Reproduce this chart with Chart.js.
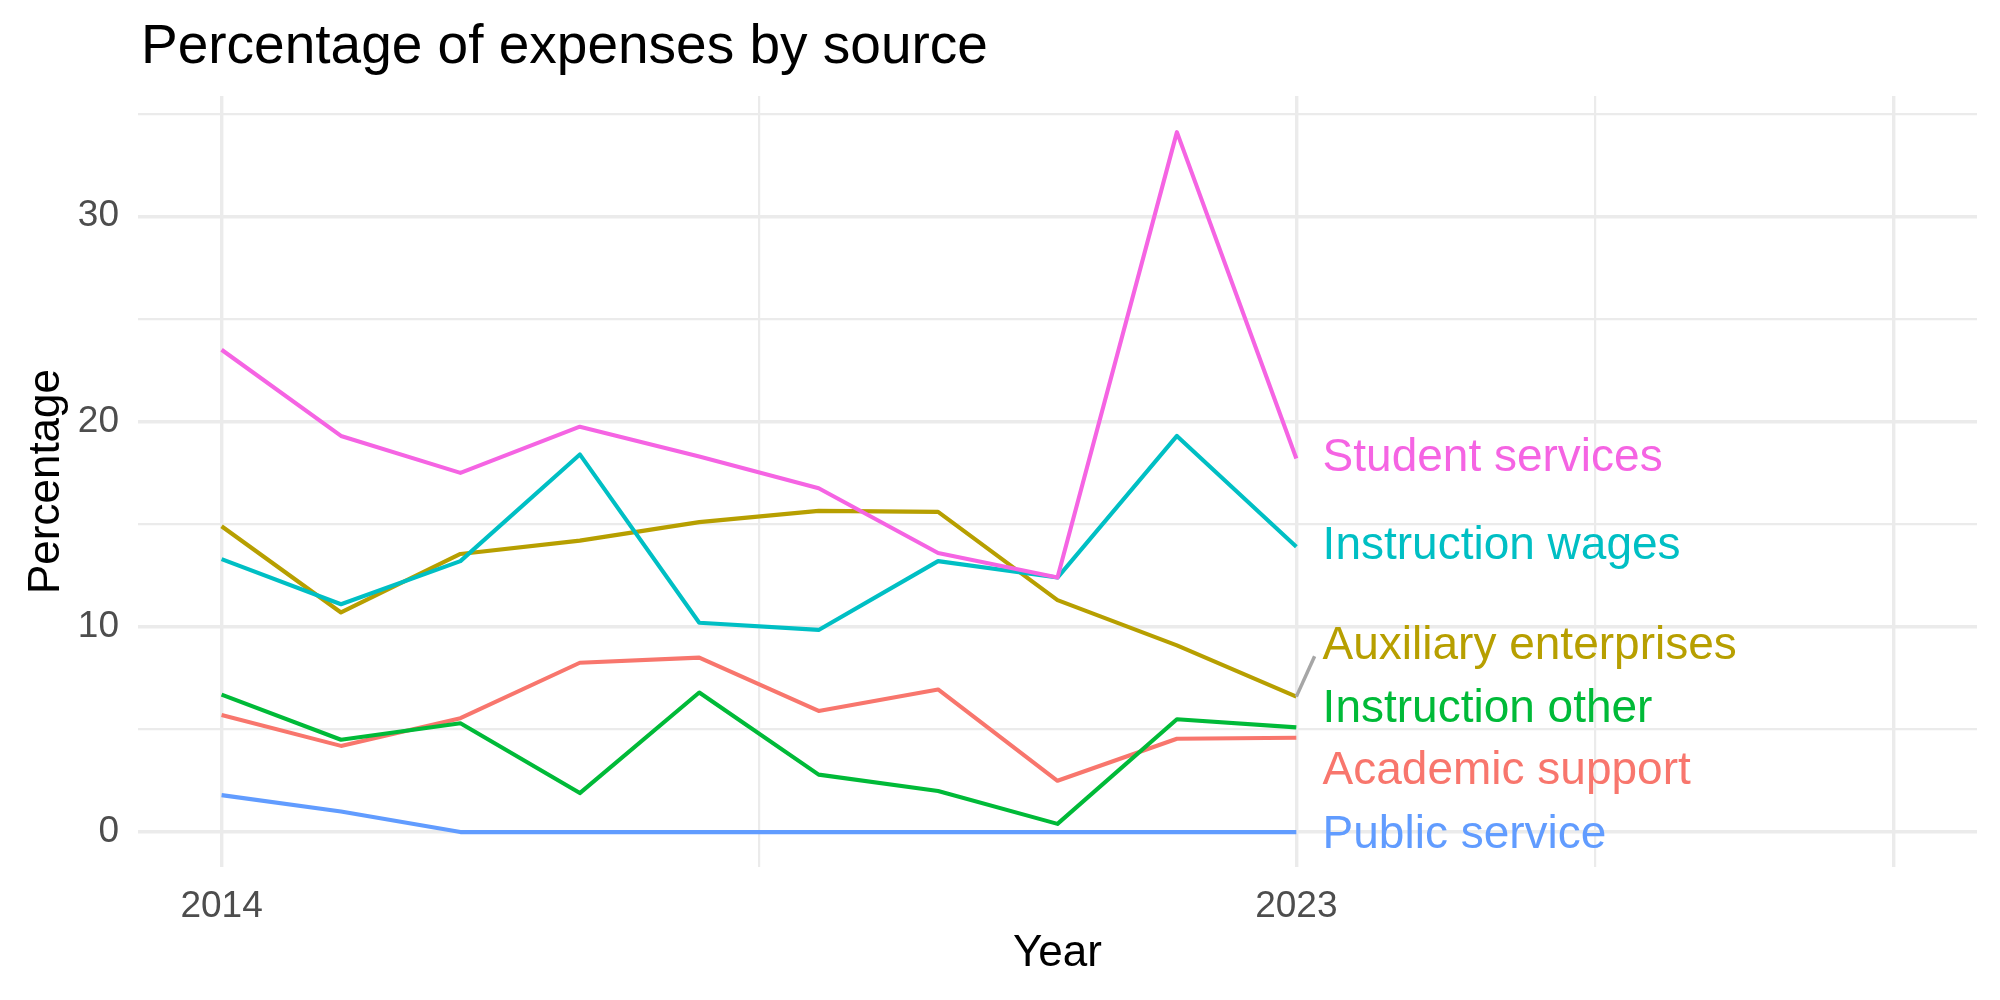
<!DOCTYPE html>
<html>
<head>
<meta charset="utf-8">
<title>Percentage of expenses by source</title>
<script src="https://cdn.jsdelivr.net/npm/chart.js@4.4.0/dist/chart.umd.min.js"></script>
<style>
  html, body { margin: 0; padding: 0; background: #fff; }
  #wrap { width: 2000px; height: 1000px; }
</style>
</head>
<body>
<div id="wrap"><canvas id="myChart" width="2000" height="1000"></canvas></div>
<script>
// data
const years = [2014, 2015, 2016, 2017, 2018, 2019, 2020, 2021, 2022, 2023];
const academicSupport = [5.7, 4.2, 5.55, 8.25, 8.5, 5.9, 6.95, 2.5, 4.55, 4.6];
const auxiliaryEnterprises = [14.9, 10.7, 13.55, 14.2, 15.1, 15.65, 15.6, 11.3, 9.1, 6.6];
const instructionOther = [6.7, 4.5, 5.3, 1.9, 6.8, 2.8, 2.0, 0.4, 5.5, 5.1];
const instructionWages = [13.3, 11.1, 13.2, 18.4, 10.2, 9.85, 13.2, 12.4, 19.3, 13.9];
const publicService = [1.8, 1.0, 0, 0, 0, 0, 0, 0, 0, 0];
const studentServices = [23.5, 19.3, 17.5, 19.75, 18.3, 16.75, 13.6, 12.4, 34.1, 18.2];

const seriesNames = ['Academic support', 'Auxiliary enterprises', 'Instruction other',
  'Instruction wages', 'Public service', 'Student services'];
const seriesValues = [academicSupport, auxiliaryEnterprises, instructionOther,
  instructionWages, publicService, studentServices];
const seriesColors = ['#F8766D', '#B79F00', '#00BA38', '#00BFC4', '#619CFF', '#F564E3'];

// repelled end labels (in data units)
const labelX = 2023.22;
const labelY = [2.95, 9.05, 6.0, 13.9, -0.15, 18.2];
const labelLink = [false, true, false, false, false, false];

const xTicks = [2014, 2018.5, 2023, 2025.5, 2028];
const xTickLabels = ['2014', '', '2023', '', ''];
const xMajor = [2014, 2023, 2028];
const yTicks = [0, 5, 10, 15, 20, 25, 30, 35];
const yTickLabels = ['0', '', '10', '', '20', '', '30', ''];

const chartTitle = 'Percentage of expenses by source';
const FONT = '"Liberation Sans", Arial, Helvetica, sans-serif';

const datasets = seriesNames.map((name, i) => ({
  label: name,
  data: years.map((yr, j) => ({ x: yr, y: seriesValues[i][j] })),
  borderColor: seriesColors[i],
  backgroundColor: seriesColors[i],
  borderWidth: 4.1,
  borderJoinStyle: 'round',
  borderCapStyle: 'butt',
  pointRadius: 0,
  tension: 0,
  fill: false,
  order: seriesNames.length - i
}));

const textPlugin = {
  id: 'textPlugin',
  afterDraw(chart) {
    const ctx = chart.ctx;
    const xs = chart.scales.x;
    const ys = chart.scales.y;
    ctx.save();
    ctx.fillStyle = '#000';
    ctx.font = '55px ' + FONT;
    ctx.textAlign = 'left';
    ctx.textBaseline = 'alphabetic';
    ctx.fillText(chartTitle, chart.chartArea.left + 3, 63);

    ctx.font = '46px ' + FONT;
    ctx.textBaseline = 'middle';
    seriesNames.forEach((name, i) => {
      const tx = xs.getPixelForValue(labelX);
      const ty = ys.getPixelForValue(labelY[i]);
      if (labelLink[i]) {
        const last = seriesValues[i][seriesValues[i].length - 1];
        ctx.strokeStyle = '#A6A6A6';
        ctx.lineWidth = 3.5;
        ctx.beginPath();
        ctx.moveTo(xs.getPixelForValue(years[years.length - 1]), ys.getPixelForValue(last));
        ctx.lineTo(tx - 8, ty + 10);
        ctx.stroke();
      }
      ctx.fillStyle = seriesColors[i];
      ctx.fillText(name, tx, ty);
    });
    ctx.restore();
  }
};

const chartContext = document.getElementById('myChart').getContext('2d');
const myChart = new Chart(chartContext, {
  type: 'line',
  data: { datasets: datasets },
  options: {
    responsive: false,
    animation: false,
    layout: { padding: { top: 96, right: 23, bottom: 0, left: 0 } },
    plugins: {
      legend: { display: false },
      tooltip: { enabled: false },
      title: { display: false }
    },
    scales: {
      x: {
        type: 'linear',
        min: 2013.3,
        max: 2028.7,
        afterBuildTicks: (scale) => { scale.ticks = xTicks.map(v => ({ value: v })); },
        afterFit: (scale) => { scale.height = 133; },
        ticks: {
          autoSkip: false,
          maxRotation: 0,
          padding: 18,
          color: '#4D4D4D',
          font: { family: FONT, size: 37 },
          callback: (value, index) => xTickLabels[index]
        },
        grid: {
          color: '#EBEBEB',
          drawTicks: false,
          lineWidth: (c) => (c.tick && xMajor.includes(c.tick.value)) ? 3.4 : 2.2
        },
        border: { display: false },
        title: {
          display: true,
          text: 'Year',
          color: '#000',
          font: { family: FONT, size: 44, lineHeight: 1.2 },
          padding: { top: 0, bottom: 20 }
        }
      },
      y: {
        type: 'linear',
        min: -1.7,
        max: 35.86,
        afterBuildTicks: (scale) => { scale.ticks = yTicks.map(v => ({ value: v })); },
        afterFit: (scale) => { scale.width = 138; },
        ticks: {
          autoSkip: false,
          padding: 19,
          color: '#4D4D4D',
          font: { family: FONT, size: 37 },
          callback: (value, index) => yTickLabels[index]
        },
        grid: {
          color: '#EBEBEB',
          drawTicks: false,
          lineWidth: (c) => (c.tick && c.tick.value % 10 === 0) ? 3.4 : 2.2
        },
        border: { display: false },
        title: {
          display: true,
          text: 'Percentage',
          color: '#000',
          font: { family: FONT, size: 44, lineHeight: 1.2 },
          padding: { top: 20, bottom: 0 }
        }
      }
    }
  },
  plugins: [textPlugin]
});
</script>
</body>
</html>
